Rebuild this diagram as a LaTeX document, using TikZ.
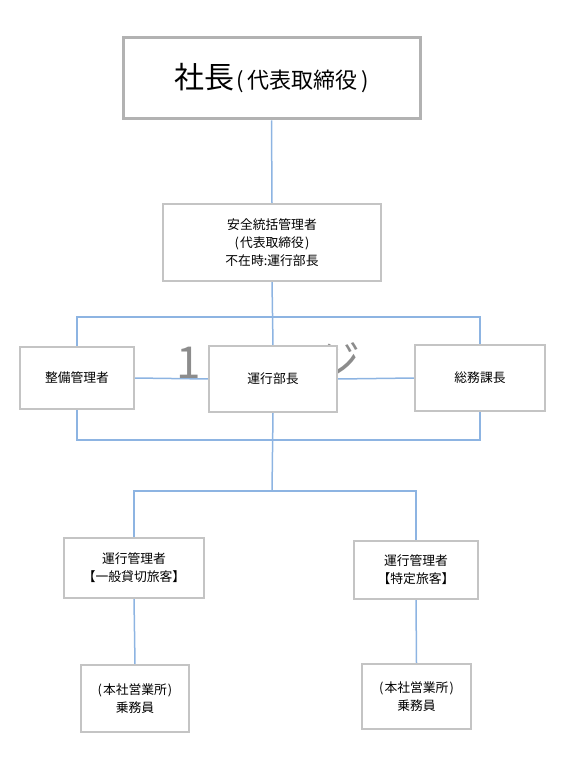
\documentclass[tikz,border=0pt]{standalone}
\usepackage{fontspec}
\setmainfont{Noto Sans CJK JP}
\definecolor{linkblue}{RGB}{141,180,226}
\definecolor{boxgray}{RGB}{196,196,196}
\definecolor{topgray}{RGB}{178,178,178}
\definecolor{markgray}{RGB}{140,140,140}
\pgfdeclarelayer{background}
\pgfsetlayers{background,main}
\begin{document}
\begin{tikzpicture}[x=1pt,y=-1pt,
  orgbox/.style={draw=boxgray,line width=1.2pt,fill=white,inner sep=0pt,align=center,
    font=\fontsize{12.8}{18}\selectfont},
  topbox/.style={draw=topgray,line width=3pt,fill=white,inner sep=0pt,align=center},
  link/.style={draw=linkblue,line width=1.5pt},
  pagemark/.style={text=markgray,inner sep=0pt,font=\fontsize{44}{44}\selectfont}]
\useasboundingbox (0,0) rectangle (567,767);
% coordinates
\coordinate (jt) at (272,317);
\coordinate (jb) at (272,440);
\coordinate (jc) at (272,491);
% nodes
\path
  (271.5,78.5) node[topbox,minimum width=297pt,minimum height=81pt] (ceo)
     {{\fontsize{30}{32}\selectfont 社長}\hspace{2pt}{\fontsize{22}{24}\selectfont (\hspace{4pt}代表取締役\hspace{4pt})}}
  (272,242.5) node[orgbox,minimum width=218pt,minimum height=77pt] (safety)
     {安全統括管理者\\(\hspace{1pt}代表取締役\hspace{1pt})\\不在時:運行部長}
  (77,378) node[orgbox,minimum width=114pt,minimum height=62pt] (seibi) {整備管理者}
  (273,379) node[orgbox,minimum width=128pt,minimum height=66pt] (unko) {運行部長}
  (480,378) node[orgbox,minimum width=130pt,minimum height=66pt] (soumu) {総務課長}
  (134,568) node[orgbox,minimum width=140pt,minimum height=60pt] (mgrL) {運行管理者\\【一般貸切旅客】}
  (416,570) node[orgbox,minimum width=124pt,minimum height=58pt] (mgrR) {運行管理者\\【特定旅客】}
  (135,698.5) node[orgbox,minimum width=108pt,minimum height=67pt] (crewL) {(\hspace{1pt}本社営業所\hspace{1pt})\\乗務員}
  (416.5,696.5) node[orgbox,minimum width=109pt,minimum height=65pt] (crewR) {(\hspace{1pt}本社営業所\hspace{1pt})\\乗務員};
\begin{pgfonlayer}{background}
\draw[link] (ceo.south) -- (safety.north);
\draw[link] (safety.south) -- (unko.north);
\draw[link] (seibi.north) |- (jt) -| (soumu.north);
\draw[link] (seibi.east) -- (unko.west);
\draw[link] (unko.east) -- (soumu.west);
\draw[link] (seibi.south) |- (jb) -| (soumu.south);
\draw[link] (unko.south) -- (jc);
\draw[link] (mgrL.north) |- (jc) -| (mgrR.north);
\draw[link] (mgrL.south) -- (crewL.north);
\draw[link] (mgrR.south) -- (crewR.north);
\node[pagemark,anchor=base] (markA) at (189,378) {1};
\node[pagemark] (markB) at (338,361) {ジ};
\end{pgfonlayer}
\end{tikzpicture}
\end{document}
